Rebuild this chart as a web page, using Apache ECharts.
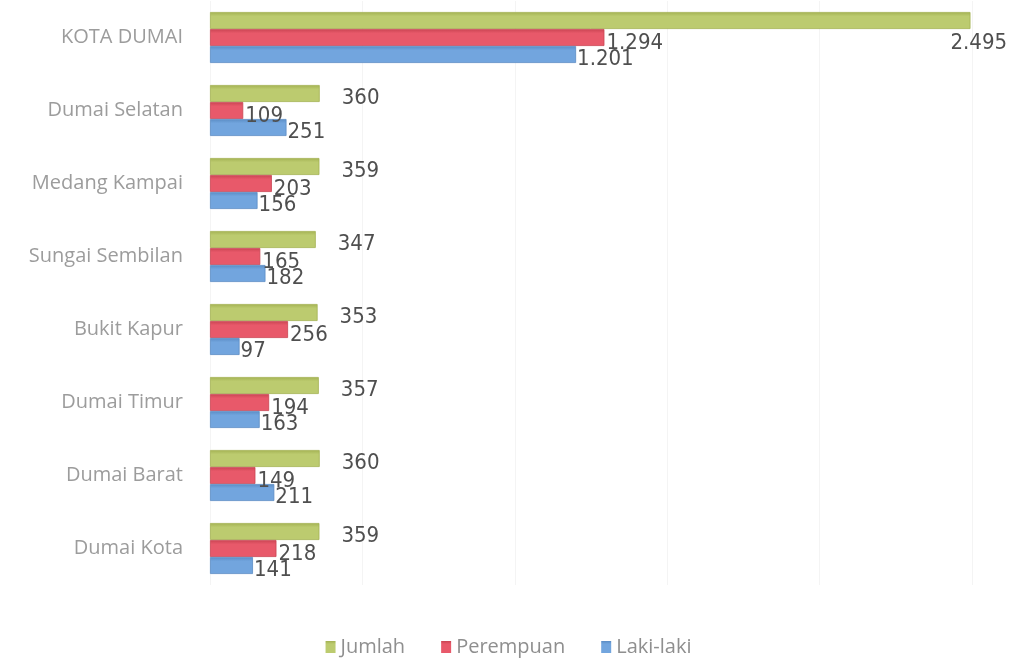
<!DOCTYPE html>
<html>
<head>
<meta charset="utf-8">
<script src="https://cdn.jsdelivr.net/npm/echarts@6/dist/echarts.min.js"></script>
<style>html,body{margin:0;padding:0;background:#fff}#c{width:1017px;height:664px}</style>
</head>
<body>
<div id="c"></div>
<script>
const categories = ['KOTA DUMAI','Dumai Selatan','Medang Kampai','Sungai Sembilan','Bukit Kapur','Dumai Timur','Dumai Barat','Dumai Kota'];
const jumlah = [2495, 360, 359, 347, 353, 357, 360, 359];
const perempuan = [1294, 109, 203, 165, 256, 194, 149, 218];
const lakiLaki = [1201, 251, 156, 182, 97, 163, 211, 141];

const fmt = v => String(v).replace(/\B(?=(\d{3})+(?!\d))/g, '.');
const labelBase = {show: true, position: 'right', distance: 5, fontFamily: 'DejaVu Sans Condensed, DejaVu Sans', fontSize: 22, color: '#4f4f4f', formatter: p => fmt(p.value)};

function mk(name, data, color, border, offset) {
  return {
    name, type: 'bar', data: data.map(v => ({value: v})), barWidth: 17, barGap: '0%',
    itemStyle: {color: {type: 'linear', x: 0, y: 0, x2: 0, y2: 1, colorStops: [{offset: 0, color: border}, {offset: 0.25, color: color}, {offset: 1, color: color}]}, borderColor: border, borderWidth: 0.8},
    label: Object.assign({}, labelBase, {offset}),
    z: 2
  };
}
const sJ = mk('Jumlah', jumlah, '#bccb6f', '#a3b152', [17, 5]);
const sP = mk('Perempuan', perempuan, '#e8596a', '#c94452', [-3, 6]);
const sL = mk('Laki-laki', lakiLaki, '#72a5de', '#5a8cc4', [-4, 5]);
// overflowing top total label sits back over bar end
sJ.data[0].label = {offset: [-25, 23]};

const chart = echarts.init(document.getElementById('c'));
chart.setOption({
  animation: false,
  grid: {left: 210, right: 45, top: 1, bottom: 79, containLabel: false},
  legend: {
    bottom: 2, left: 'center', itemWidth: 10, itemHeight: 12, itemGap: 36, icon: 'rect',
    itemStyle: {borderWidth: 0},
    textStyle: {fontFamily: 'Open Sans', fontSize: 20, color: '#8f8f8f', padding: [0, 0, 0, 0]},
    data: ['Jumlah', 'Perempuan', 'Laki-laki']
  },
  xAxis: {
    type: 'value', min: 0, max: 2500, interval: 500,
    axisLabel: {show: false}, axisLine: {show: false}, axisTick: {show: false},
    splitLine: {show: true, lineStyle: {color: '#f4f4f4', width: 1}}
  },
  yAxis: {
    type: 'category', data: categories, inverse: true,
    axisLine: {show: false}, axisTick: {show: false},
    axisLabel: {fontFamily: 'Open Sans', fontSize: 20, color: '#9c9c9c', margin: 27}
  },
  series: [sJ, sP, sL]
});
</script>
</body>
</html>
